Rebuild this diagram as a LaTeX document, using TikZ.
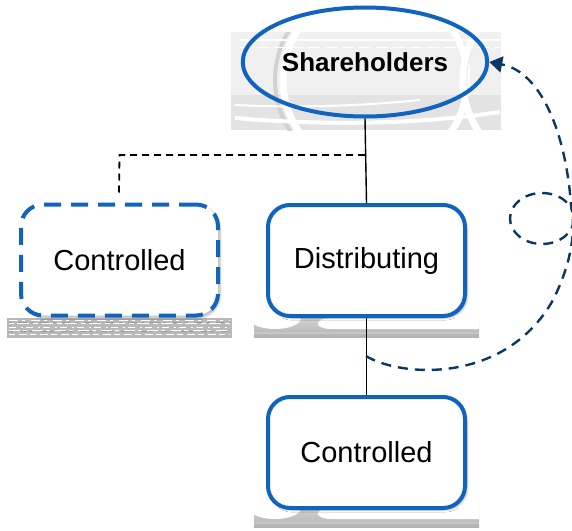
\documentclass[tikz,border=0pt]{standalone}
\usepackage{fontspec}
\setmainfont{Liberation Sans}
\usetikzlibrary{shapes.geometric,arrows.meta,shadows.blur}
\definecolor{boxblue}{RGB}{16,100,190}
\definecolor{navy}{RGB}{12,55,100}
\tikzset{
  boxnode/.style={draw=boxblue, line width=4pt, rounded corners=22pt, fill=white,
    minimum width=197pt, minimum height=111pt, font=\fontsize{29}{32}\selectfont,
    blur shadow={shadow xshift=2pt, shadow yshift=-2pt, shadow blur steps=6, shadow opacity=30}},
  dashbox/.style={boxnode, dash pattern=on 17pt off 10pt},
  plinth/.style={top color=gray!35, bottom color=gray!60, draw=none},
  blackdash/.style={black, line width=1.8pt, dash pattern=on 7pt off 5pt},
  navydash/.style={navy, line width=2.4pt, dash pattern=on 10pt off 7pt},
  solidline/.style={black, line width=1.4pt},
  texw/.style={white, line width=0.8pt},
  texg/.style={gray!80, line width=0.8pt}
}
\begin{document}
\begin{tikzpicture}[x=1pt,y=-1pt]
\useasboundingbox (0,0) rectangle (572,530);
% background behind the ellipse
\begin{scope}
\clip (231,32) rectangle (501,130);
\fill[gray!12] (231,32) rectangle (501,130);
\fill[gray!22] (231,95) rectangle (501,130);
\draw[gray!35, line width=4pt] (370,80) circle[radius=95];
\draw[white, line width=7pt] (375,80) circle[radius=92];
\draw[gray!35, line width=4pt] (560,80) circle[radius=95];
\draw[white, line width=7pt] (555,80) circle[radius=92];
\draw[white, line width=4pt] (235,118) .. controls (330,126) and (420,124) .. (500,112);
\draw[white, line width=2pt] (235,105) .. controls (300,108) and (360,106) .. (420,100);
\draw[white, line width=1.5pt] (240,40) -- (500,40);
\draw[white, line width=1pt, dash pattern=on 12pt off 5pt] (240,47) -- (500,47);
\end{scope}
% plinths
\fill[gray!55] (7,318) rectangle (232,338);
\draw[texw, dash pattern=on 9pt off 4pt on 3pt off 6pt] (9,320) -- (230,320);
\draw[texw, dash pattern=on 5pt off 3pt on 12pt off 4pt] (9,323) -- (230,323);
\draw[texw, dash pattern=on 7pt off 5pt on 2pt off 3pt] (9,327) -- (230,327);
\draw[texw, dash pattern=on 11pt off 3pt on 4pt off 5pt] (9,330) -- (230,330);
\draw[texw, dash pattern=on 6pt off 4pt on 8pt off 3pt] (9,334) -- (230,334);
\draw[texg, dash pattern=on 3pt off 6pt on 9pt off 4pt] (9,322) -- (230,322);
\draw[texg, dash pattern=on 4pt off 8pt on 6pt off 2pt] (9,331) -- (230,331);
\foreach \yb in {318,508}{
  \begin{scope}
  \clip (254,\yb) rectangle (479,\yb+19);
  \shade[plinth] (254,\yb) rectangle (479,\yb+19);
  \fill[white] (275,\yb) ellipse[x radius=26, y radius=11];
  \fill[white] (330,\yb) .. controls (316,\yb) and (312,\yb+10) .. (330,\yb+11) -- (479,\yb+11) -- (479,\yb) -- cycle;
  \fill[gray!45] (254,\yb+14) rectangle (479,\yb+16);
  \end{scope}
}
% nodes
\node[ellipse, draw=boxblue, line width=4pt, minimum width=244pt, minimum height=109pt,
  font=\fontsize{26}{30}\selectfont\bfseries] (sh) at (365,62) {Shareholders};
\node[dashbox] (c1) at (119.5,260) {Controlled};
\node[boxnode] (dist) at (366.5,260.5) {Distributing};
\node[boxnode] (c2) at (366.5,452.5) {Controlled};
% connectors
\coordinate (j) at (sh.south |- 0,155);
\coordinate (k) at (c1.north |- 0,155);
\coordinate (kend) at (119,193);
\draw[solidline] (sh.south) -- (dist.north);
\draw[solidline] (dist.south) -- (c2.north);
\draw[blackdash] (j) -- (k) -- (kend);
\coordinate (s) at (366,356);
\draw[navydash] (542,218.5) ellipse[x radius=32, y radius=25.5];
\draw[navydash, -{Triangle[length=13pt,width=16pt]}] (s) .. controls (400,377) and (505,385) .. (553,300)
  .. controls (572,262) and (576,230) .. (571,205)
  .. controls (566,135) and (542,72) .. (sh.east);
\end{tikzpicture}
\end{document}
